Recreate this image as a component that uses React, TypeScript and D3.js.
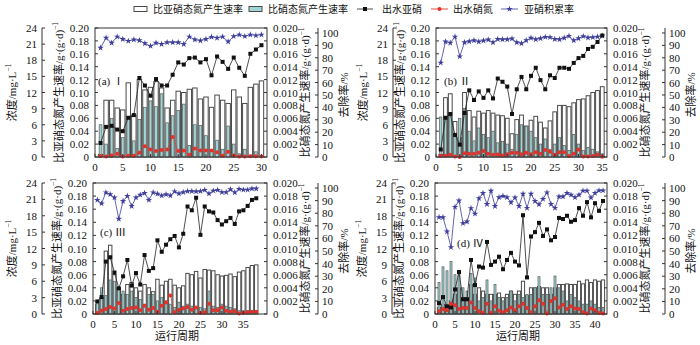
import React from 'react';
import * as d3 from 'd3';

// ---------------- data ----------------
const nitriteRateA = [0.004, 0.088, 0.088, 0.076, 0.073, 0.115, 0.065, 0.120, 0.104, 0.108, 0.117, 0.107, 0.076, 0.088, 0.102, 0.100, 0.105, 0.107, 0.090, 0.093, 0.077, 0.096, 0.088, 0.083, 0.104, 0.093, 0.083, 0.108, 0.113, 0.118];
const nitrateRateA = [0.0050, 0.0020, 0.0060, 0.0013, 0.0030, 0.0060, 0.0025, 0.0058, 0.0077, 0.0087, 0.0078, 0.0098, 0.0053, 0.0064, 0.0072, 0.0082, 0.0018, 0.0050, 0.0049, 0.0033, 0.0010, 0.0026, 0.0012, 0.0048, 0.0020, 0.0005, 0.0012, 0.0003, 0.0008, 0.0002];
const effNitriteA = [2.6, 5.6, 5.8, 5.1, 4.8, 7.3, 7.8, 14.7, 13.3, 11.4, 14.5, 13.3, 13.3, 15.3, 17.6, 17.2, 18.4, 18.5, 17.6, 18.2, 15.2, 18.7, 17.7, 16.4, 18.5, 16.6, 15.1, 19.2, 20.0, 20.8];
const effNitrateA = [0.2, 0.1, 0.3, 0.6, 0.1, 0.25, 0.25, 0.8, 2.0, 1.4, 1.1, 1.3, 1.4, 3.7, 1.1, 1.2, 0.4, 1.6, 1.2, 1.2, 1.2, 0.9, 0.25, 1.0, 0.3, 0.1, 0.1, 0.15, 0.15, 0.1];
const accumA = [88, 96, 92, 97, 95, 93.5, 94.6, 94, 91.6, 89.5, 92, 91, 92.4, 92.4, 92.4, 91, 97, 94.6, 93.8, 95, 96.8, 96, 97, 93, 97.3, 98.6, 97.3, 98.6, 98, 98.6];

const nitriteRateB = [0.004, 0.092, 0.098, 0.055, 0.030, 0.100, 0.072, 0.062, 0.071, 0.068, 0.072, 0.068, 0.065, 0.064, 0.060, 0.036, 0.058, 0.065, 0.048, 0.057, 0.063, 0.054, 0.045, 0.056, 0.070, 0.080, 0.080, 0.078, 0.084, 0.089, 0.090, 0.095, 0.100, 0.103, 0.109];
const nitrateRateB = [0.0062, 0.0060, 0.0065, 0.0032, 0.0060, 0.0075, 0.0040, 0.0025, 0.0045, 0.0035, 0.0030, 0.0040, 0.0022, 0.0024, 0.0020, 0.0012, 0.0035, 0.0050, 0.0047, 0.0040, 0.0030, 0.0020, 0.0028, 0.0012, 0.0020, 0.0030, 0.0018, 0.0010, 0.0035, 0.0020, 0.0010, 0.0015, 0.0012, 0.0008, 0.0005];
const effNitriteB = [1.4, 7.3, 8.0, 4.1, 2.3, 8.2, 12.4, 10.6, 12.2, 11.0, 12.4, 10.9, 14.6, 14.0, 13.1, 8.0, 12.6, 14.9, 12.6, 15.1, 16.6, 14.3, 12.6, 15.2, 14.7, 16.6, 16.6, 16.4, 17.5, 18.4, 18.8, 20.1, 20.5, 21.4, 22.6];
const effNitrateB = [0.25, 0.25, 0.4, 0.1, 0, 0.7, 0.6, 0.6, 0.8, 1.1, 0.6, 0.4, 0.45, 0.3, 0.5, 0.8, 0.8, 0.5, 0.8, 0.5, 0.9, 0.6, 1.3, 1.0, 0.4, 0.9, 0.9, 0.2, 0.6, 1.4, 0.1, 0.1, 0.2, 0.4, 0.05];
const accumB = [76, 93, 92, 97, 81, 92.4, 93.2, 94, 93, 93.8, 94.6, 92.4, 95, 94.8, 94.8, 95.4, 92.4, 91.6, 94, 96, 94.8, 95.6, 96.7, 96.5, 95, 94.8, 96, 97.6, 94, 95.6, 97.3, 96.2, 96.5, 97, 97.8];

const nitriteRateC = [0.015, 0.025, 0.096, 0.105, 0.060, 0.040, 0.030, 0.045, 0.048, 0.040, 0.035, 0.045, 0.040, 0.034, 0.053, 0.044, 0.050, 0.053, 0.044, 0.040, 0.043, 0.062, 0.060, 0.065, 0.055, 0.068, 0.067, 0.066, 0.060, 0.058, 0.059, 0.061, 0.057, 0.064, 0.066, 0.071, 0.074, 0.075];
const nitrateRateC = [0.0018, 0.0040, 0.0028, 0.0052, 0.0050, 0.0040, 0.0035, 0.0030, 0.0035, 0.0025, 0.0022, 0.0015, 0.0030, 0.0030, 0.0020, 0.0025, 0.0020, 0.0015, 0.0010, 0.0018, 0.0012, 0.0015, 0.0012, 0.0010, 0.0010, 0.0008, 0.0035, 0.0012, 0.0010, 0.0015, 0.0012, 0.0010, 0.0008, 0.0005, 0.0005, 0.0005, 0.0005, 0.0005];
const effNitriteC = [2.3, 3.1, 9.6, 10.4, 7.6, 4.7, 6.9, 9.9, 5.2, 7.5, 5.4, 10.8, 7.9, 8.4, 13.5, 11.4, 12.7, 13.7, 14.3, 12.2, 14.7, 19.7, 19.0, 21.3, 14.5, 19.7, 18.8, 18.6, 17.2, 16.4, 17.0, 17.6, 16.5, 18.8, 19.0, 19.8, 20.9, 21.2];
const effNitrateC = [0.2, 0.6, 0.9, 1.3, 1.0, 2.0, 0.6, 0.9, 1.1, 1.2, 0.7, 1.5, 0.8, 1.1, 0.4, 1.5, 2.1, 3.4, 0.3, 0.8, 1.0, 1.3, 0.8, 1.2, 0.2, 0.3, 1.9, 0.7, 0.7, 1.2, 0.6, 0.4, 0.5, 0.1, 0.25, 0.3, 0.4, 0.4];
const accumC = [90.5, 87.7, 96.5, 95, 92.4, 75.5, 89.6, 93.7, 85.6, 92.4, 94.6, 96, 90.5, 96.5, 95.4, 94, 95, 94, 97.3, 95.6, 96.7, 97.5, 97.5, 97.3, 97.5, 98.4, 95.6, 97.8, 98.4, 96.7, 96.7, 98.9, 96.5, 99.2, 98.6, 98.6, 99.5, 99.5];

const nitriteRateD = [0.010, 0.015, 0.010, 0.020, 0.030, 0.040, 0.025, 0.025, 0.045, 0.030, 0.040, 0.035, 0.030, 0.030, 0.030, 0.032, 0.025, 0.030, 0.035, 0.030, 0.035, 0.050, 0.028, 0.040, 0.040, 0.042, 0.040, 0.040, 0.030, 0.040, 0.045, 0.045, 0.046, 0.045, 0.045, 0.050, 0.046, 0.052, 0.048, 0.052, 0.050, 0.052];
const nitrateRateD = [0.0048, 0.0072, 0.0066, 0.0080, 0.0060, 0.0065, 0.0040, 0.0035, 0.0062, 0.0055, 0.0020, 0.0025, 0.0052, 0.0020, 0.0045, 0.0025, 0.0020, 0.0025, 0.0035, 0.0020, 0.0030, 0.0025, 0.0030, 0.0030, 0.0040, 0.0057, 0.0030, 0.0030, 0.0040, 0.0058, 0.0040, 0.0035, 0.0020, 0.0030, 0.0025, 0.0020, 0.0015, 0.0015, 0.0020, 0.0015, 0.0010, 0.0010];
const effNitriteD = [2.0, 3.1, 1.4, 1.2, 4.5, 7.7, 2.7, 2.7, 9.9, 5.3, 8.7, 8.5, 13.2, 9.0, 9.6, 10.5, 8.2, 9.9, 11.2, 9.6, 8.9, 18.1, 6.7, 14.2, 15.0, 16.7, 14.3, 15.5, 13.5, 14.1, 17.6, 17.4, 18.0, 16.9, 17.2, 19.4, 18.0, 20.5, 17.7, 20.3, 18.9, 20.7];
const effNitrateD = [0.5, 0.9, 0.7, 1.9, 1.6, 0.9, 1.1, 1.1, 2.1, 1.1, 0.5, 0.2, 1.9, 0.2, 1.4, 0.6, 0.3, 0.7, 1.2, 0.7, 1.4, 1.9, 1.1, 0.3, 1.4, 2.5, 1.9, 0.1, 2.4, 2.9, 1.2, 1.7, 0.9, 1.4, 1.0, 0.9, 0.3, 0.1, 1.0, 0.7, 0.2, 0.1];
const accumD = [76.8, 76.8, 65.4, 53, 85, 90, 72, 73.3, 84, 79.6, 91.8, 96, 87.2, 97.8, 85.6, 92.6, 93.7, 92.6, 88.6, 92.4, 85.6, 95.4, 84.2, 95.4, 89.6, 87, 91.3, 96.5, 87.2, 84.2, 93.2, 93.2, 96, 94.6, 92.6, 94.6, 97.8, 97.8, 92.4, 96, 98, 98];

const concTicks = [0, 3, 6, 9, 12, 15, 18, 21, 24];
const rateTicks = [0, 0.02, 0.04, 0.06, 0.08, 0.10, 0.12, 0.14, 0.16, 0.18, 0.20];
const rate2Ticks = [0, 0.002, 0.004, 0.006, 0.008, 0.010, 0.012, 0.014, 0.016, 0.018, 0.020];
const pctTicks = [0, 10, 20, 30, 40, 50, 60, 70, 80, 90, 100];
const xTicksA = [0, 5, 10, 15, 20, 25, 30];
const xTicksB = [0, 5, 10, 15, 20, 25, 30, 35];
const xTicksC = [0, 5, 10, 15, 20, 25, 30, 35];
const xTicksD = [0, 5, 10, 15, 20, 25, 30, 35, 40];

const legendLabels = ['比亚硝态氮产生速率', '比硝态氮产生速率', '出水亚硝', '出水硝氮', '亚硝积累率'];
const panelLabels = ['(a) Ⅰ', '(b) Ⅱ', '(c) Ⅲ', '(d) Ⅳ'];

// ---------------- styles ----------------
const FONT = "'Liberation Serif', 'Times New Roman', 'Noto Sans CJK SC', serif";
const TEAL = '#9fd5d5';
const BAR_STROKE = '#4a4a4a';
const TEAL_STROKE = '#5a5a5a';
const RED = '#e8302a';
const BLUE = '#3f3f9a';
const AX = '#333';

interface Cfg {
  left: number; right: number; top: number; bottom: number;
  outerL: number; outerR: number;
  xMax: number; xTicks: number[];
  label: string; labelX: number; labelY: number;
  nitriteRate: number[]; nitrateRate: number[];
  effNitrite: number[]; effNitrate: number[]; accum: number[];
  xTitle: boolean;
}

const fmt2 = (v: number) => (v === 0 ? '0' : v.toFixed(2));
const fmt3 = (v: number) => (v === 0 ? '0' : v.toFixed(3));

function Sup({ children }: { children: React.ReactNode }) {
  return <tspan fontSize={7.5} dy={-4}>{children}</tspan>;
}

function Panel({ c }: { c: Cfg }) {
  const x = d3.scaleLinear().domain([0, c.xMax]).range([c.left, c.right]);
  const yRate = d3.scaleLinear().domain([0, 0.2]).range([c.bottom, c.top]);
  const yRate2 = d3.scaleLinear().domain([0, 0.02]).range([c.bottom, c.top]);
  const yConc = d3.scaleLinear().domain([0, 24]).range([c.bottom, c.top]);
  const yPct = d3.scaleLinear().domain([0, 104]).range([c.bottom, c.top]);
  const step = x(1) - x(0);
  const wW = step * 0.8;
  const tW = step * 0.5;
  const lineConc = d3.line<number>().x((_, i) => x(i + 1)).y((d) => yConc(d));
  const linePct = d3.line<number>().x((_, i) => x(i + 1)).y((d) => yPct(d));
  const star = d3.symbol(d3.symbolStar, 13)() as string;
  const midY = (c.top + c.bottom) / 2;
  const pctTop = yPct(100);

  return (
    <g fontFamily={FONT} fontSize={11} fill="#111">
      {/* bars */}
      {c.nitriteRate.map((v, i) => (
        <rect key={'w' + i} x={x(i + 1) - wW / 2} y={yRate(v)} width={wW} height={c.bottom - yRate(v)}
          fill="#fff" stroke={BAR_STROKE} strokeWidth={1} />
      ))}
      {c.nitrateRate.map((v, i) => (
        <rect key={'t' + i} x={x(i + 1) - tW / 2} y={yRate2(v)} width={tW} height={c.bottom - yRate2(v)}
          fill={TEAL} stroke={TEAL_STROKE} strokeWidth={0.7} />
      ))}
      {/* lines */}
      <path d={linePct(c.accum) as string} fill="none" stroke={BLUE} strokeWidth={0.8} />
      <path d={lineConc(c.effNitrite) as string} fill="none" stroke="#222" strokeWidth={0.8} />
      <path d={lineConc(c.effNitrate) as string} fill="none" stroke={RED} strokeWidth={0.9} strokeDasharray="1.5,1.2" />
      {c.accum.map((v, i) => (
        <path key={'s' + i} d={star} transform={`translate(${x(i + 1)},${yPct(v)})`} fill={BLUE} />
      ))}
      {c.effNitrite.map((v, i) => (
        <rect key={'k' + i} x={x(i + 1) - 2} y={yConc(v) - 2} width={4} height={4} fill="#111" />
      ))}
      {c.effNitrate.map((v, i) => (
        <circle key={'r' + i} cx={x(i + 1)} cy={yConc(v)} r={2} fill={RED} />
      ))}
      {/* frame */}
      <rect x={c.left} y={c.top} width={c.right - c.left} height={c.bottom - c.top} fill="none" stroke={AX} strokeWidth={1} />
      {/* inner left ticks */}
      {rateTicks.map((t) => (
        <g key={'rl' + t}>
          <line x1={c.left} x2={c.left + 3} y1={yRate(t)} y2={yRate(t)} stroke={AX} />
          <text x={c.left - 6} y={yRate(t)} textAnchor="end" dominantBaseline="central">{fmt2(t)}</text>
        </g>
      ))}
      {/* inner right ticks */}
      {rate2Ticks.map((t) => (
        <g key={'rr' + t}>
          <line x1={c.right - 3} x2={c.right} y1={yRate2(t)} y2={yRate2(t)} stroke={AX} />
          <text x={c.right + 6} y={yRate2(t)} textAnchor="start" dominantBaseline="central">{fmt3(t)}</text>
        </g>
      ))}
      {/* outer left axis */}
      <line x1={c.outerL} x2={c.outerL} y1={c.top} y2={c.bottom} stroke={AX} />
      {concTicks.map((t) => (
        <g key={'cl' + t}>
          <line x1={c.outerL} x2={c.outerL + 3} y1={yConc(t)} y2={yConc(t)} stroke={AX} />
          <text x={c.outerL - 5} y={yConc(t)} textAnchor="end" dominantBaseline="central">{t}</text>
        </g>
      ))}
      {/* outer right axis */}
      <line x1={c.outerR} x2={c.outerR} y1={c.top} y2={c.bottom} stroke={AX} />
      {pctTicks.map((t) => (
        <g key={'pr' + t}>
          <line x1={c.outerR - 3} x2={c.outerR} y1={yPct(t)} y2={yPct(t)} stroke={AX} />
          <text x={c.outerR + 4} y={yPct(t)} textAnchor="start" dominantBaseline="central">{t}</text>
        </g>
      ))}
      {/* x axis */}
      {c.xTicks.map((t) => (
        <g key={'x' + t}>
          <line x1={x(t)} x2={x(t)} y1={c.bottom} y2={c.bottom - 3} stroke={AX} />
          <text x={x(t)} y={c.bottom + 10} textAnchor="middle" dominantBaseline="central">{t}</text>
        </g>
      ))}
      {c.xTitle && (
        <text x={(c.left + c.right) / 2 - 3} y={c.bottom + 22} textAnchor="middle" dominantBaseline="central" fontSize={11}>运行周期</text>
      )}
      {/* titles */}
      <text transform={`translate(${c.outerL - 30},${midY}) rotate(-90)`} textAnchor="middle" dominantBaseline="central">
        浓度/mg·L<Sup>−1</Sup>
      </text>
      <text transform={`translate(${c.left - 36},${midY}) rotate(-90)`} textAnchor="middle" dominantBaseline="central">
        比亚硝态氮产生速率/g·(g·d)<Sup>−1</Sup>
      </text>
      <text transform={`translate(${c.right + 38},${midY}) rotate(-90)`} textAnchor="middle" dominantBaseline="central">
        比硝态氮产生速率/g·(g·d)<Sup>−1</Sup>
      </text>
      <text transform={`translate(${c.outerR + 26},${(pctTop + c.bottom) / 2}) rotate(-90)`} textAnchor="middle" dominantBaseline="central">
        去除率/%
      </text>
      <text x={c.labelX} y={c.labelY} dominantBaseline="central">{c.label}</text>
    </g>
  );
}

function Legend() {
  const y = 9;
  const star = d3.symbol(d3.symbolStar, 13)() as string;
  return (
    <g fontFamily={FONT} fontSize={10} fill="#111">
      <rect x={134} y={y - 2.5} width={13} height={5} fill="#fff" stroke={BAR_STROKE} />
      <text x={153} y={y} dominantBaseline="central">{legendLabels[0]}</text>
      <rect x={249} y={y - 2.5} width={13} height={5} fill={TEAL} stroke={BAR_STROKE} />
      <text x={268} y={y} dominantBaseline="central">{legendLabels[1]}</text>
      <line x1={357} x2={373} y1={y} y2={y} stroke="#222" strokeWidth={0.8} />
      <rect x={363} y={y - 2} width={4} height={4} fill="#111" />
      <text x={382} y={y} dominantBaseline="central">{legendLabels[2]}</text>
      <line x1={431} x2={448} y1={y} y2={y} stroke={RED} strokeWidth={0.9} />
      <circle cx={439.5} cy={y} r={2} fill={RED} />
      <text x={453} y={y} dominantBaseline="central">{legendLabels[3]}</text>
      <line x1={501} x2={518} y1={y} y2={y} stroke={BLUE} strokeWidth={0.8} />
      <path d={star} transform={`translate(509.5,${y})`} fill={BLUE} />
      <text x={524} y={y} dominantBaseline="central">{legendLabels[4]}</text>
    </g>
  );
}

const panels: Cfg[] = [
  { left: 95, right: 267, top: 28, bottom: 157, outerL: 42, outerR: 318, xMax: 31, xTicks: xTicksA, label: panelLabels[0], labelX: 98, labelY: 81,
    nitriteRate: nitriteRateA, nitrateRate: nitrateRateA, effNitrite: effNitriteA, effNitrate: effNitrateA, accum: accumA, xTitle: false },
  { left: 436, right: 607, top: 28, bottom: 157, outerL: 393, outerR: 665, xMax: 36, xTicks: xTicksB, label: panelLabels[1], labelX: 444, labelY: 81,
    nitriteRate: nitriteRateB, nitrateRate: nitrateRateB, effNitrite: effNitriteB, effNitrate: effNitrateB, accum: accumB, xTitle: false },
  { left: 93, right: 267, top: 183, bottom: 314, outerL: 42, outerR: 318, xMax: 40.5, xTicks: xTicksC, label: panelLabels[2], labelX: 100, labelY: 232,
    nitriteRate: nitriteRateC, nitrateRate: nitrateRateC, effNitrite: effNitriteC, effNitrate: effNitrateC, accum: accumC, xTitle: true },
  { left: 435, right: 607, top: 183, bottom: 314, outerL: 392, outerR: 665, xMax: 43, xTicks: xTicksD, label: panelLabels[3], labelX: 457, labelY: 243,
    nitriteRate: nitriteRateD, nitrateRate: nitrateRateD, effNitrite: effNitriteD, effNitrate: effNitrateD, accum: accumD, xTitle: true },
];

export default function App() {
  return (
    <svg width={700} height={345} viewBox="0 0 700 345" style={{ position: 'absolute', left: 0, top: 0, background: '#fff' }}>
      <rect width={700} height={345} fill="#fff" />
      <Legend />
      {panels.map((p, i) => <Panel key={i} c={p} />)}
    </svg>
  );
}
